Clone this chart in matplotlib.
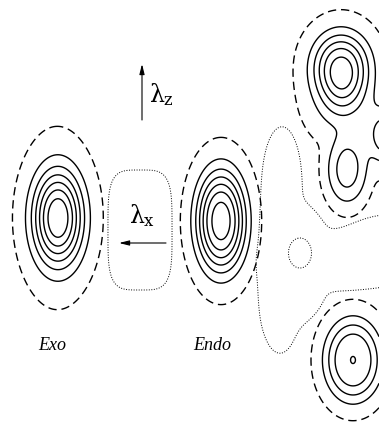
import numpy as np
import matplotlib
matplotlib.use("Agg")
import matplotlib.pyplot as plt

plt.rcParams['mathtext.fontset'] = 'custom'
plt.rcParams['mathtext.rm'] = 'DejaVu Serif'
plt.rcParams['mathtext.it'] = 'DejaVu Serif'

# positive lobes (pixel frame, y down): Exo, Endo, top-right peaks, bottom-right peak
blob_names = ['Exo', 'Exo_halo', 'Endo', 'TR1', 'TR1b', 'TR2', 'TR3', 'BR']
blob_x = [58, 56, 221, 341, 343, 347, 388, 353]
blob_y = [218, 218, 221, 66, 100, 170, 136, 360]
blob_amp = [0.95, 0.028, 0.93, 0.70, 0.30, 0.33, 0.45, 0.5705]
blob_sx = [17.7, 20.0, 18.0, 20.0, 19.0, 15.7, 14.0, 21.8]
blob_sy = [34.0, 60.0, 37.0, 24.0, 22.0, 26.7, 18.0, 31.5]
blob_p = [2.2, 2.0, 2.5, 2.3, 2.0, 3.0, 2.0, 2.9]

# negative regions (dotted): gap between Exo and Endo, right-hand trough
neg_names = ['gap', 'col1', 'col2', 'col3', 'col4', 'band1', 'band2', 'band3',
             'corner_up', 'corner_low']
neg_x = [140, 282, 281, 279, 280, 320, 355, 392, 305, 300]
neg_y = [230, 180, 220, 260, 300, 262, 260, 248, 225, 300]
neg_amp = [1.0, 1.0, 1.0, 1.0, 1.0, 1.0, 1.0, 1.0, 1.0, 1.0]
neg_a1 = [26.0, 12.7, 12.7, 13.0, 13.5, 35.0, 35.0, 35.0, 20.0, 20.0]
neg_a2 = [48.7, 35.0, 35.0, 35.0, 35.0, 18.0, 18.0, 22.0, 11.0, 13.5]
neg_angle = [0, 0, 0, 0, 0, 0, 0, 0, 52, -50]
neg_p = [4, 2, 2, 2, 2, 2, 2, 2, 2, 2]

# small closed dotted pocket
pocket_x = [300]
pocket_y = [253]
pocket_rx = [11.5]
pocket_ry = [15.0]

dashed_level = 0.02
solid_levels = [0.15, 0.29, 0.43, 0.57, 0.71, 0.85]
dotted_level = 0.1

W, H = 379, 424
xs = np.arange(0, W + 0.5, 0.5)
ys = np.arange(0, H + 0.5, 0.5)
X, Y = np.meshgrid(xs, ys)

P = np.zeros_like(X)
for x0, y0, a, sx, sy, p in zip(blob_x, blob_y, blob_amp, blob_sx, blob_sy, blob_p):
    rho = np.sqrt(((X - x0) / sx) ** 2 + ((Y - y0) / sy) ** 2)
    P += a * np.exp(-0.5 * rho ** p)

N = np.zeros_like(X)
for x0, y0, a, a1, a2, ang, p in zip(neg_x, neg_y, neg_amp, neg_a1, neg_a2,
                                     neg_angle, neg_p):
    c, s = np.cos(np.radians(ang)), np.sin(np.radians(ang))
    u = ((X - x0) * c + (Y - y0) * s) / a1
    v = (-(X - x0) * s + (Y - y0) * c) / a2
    N += a * np.exp(-(np.abs(u) ** p + np.abs(v) ** p))

D = np.zeros_like(X)
for x0, y0, rx, ry in zip(pocket_x, pocket_y, pocket_rx, pocket_ry):
    D += np.exp(-0.5 * (((X - x0) / rx) ** 2 + ((Y - y0) / ry) ** 2))

fig = plt.figure(figsize=(3.79, 4.24), dpi=100)
ax = fig.add_axes([0, 0, 1, 1])

ax.contour(X, Y, P, levels=[dashed_level], colors='k', linewidths=1.0,
           linestyles=[(0, (6, 3.5))])
ax.contour(X, Y, P, levels=solid_levels, colors='k', linewidths=1.0,
           linestyles='solid')
ax.contour(X, Y, N, levels=[dotted_level], colors='k', linewidths=0.7,
           linestyles=[(0, (1, 1.6))])
ax.contour(X, Y, D, levels=[np.exp(-0.5)], colors='k', linewidths=0.7,
           linestyles=[(0, (1, 1.6))])

# arrows and labels
arrow = dict(arrowstyle='-|>,head_length=0.6,head_width=0.15', lw=0.8, color='k',
             shrinkA=0, shrinkB=0)
ax.annotate('', xy=(142, 64), xytext=(142, 120), arrowprops=arrow)
ax.annotate('', xy=(119, 243), xytext=(166, 243), arrowprops=arrow)
ax.text(149, 95, r'$\lambda_{\rm z}$', fontsize=17, va='center', ha='left')
ax.text(142, 216, r'$\lambda_{\rm x}$', fontsize=17, va='center', ha='center')

ax.text(52.5, 346, 'Exo', fontsize=13, style='italic', family='Liberation Serif',
        ha='center', va='center')
ax.text(212.5, 346, 'Endo', fontsize=13, style='italic', family='Liberation Serif',
        ha='center', va='center')

ax.set_xlim(0, W)
ax.set_ylim(H, 0)
ax.axis('off')

fig.savefig('out.png', dpi=100)
